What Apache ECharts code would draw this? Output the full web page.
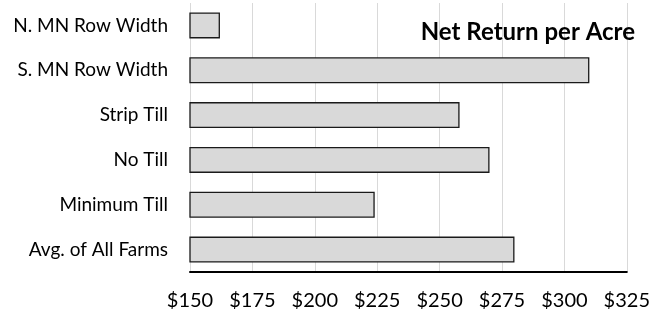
<!DOCTYPE html>
<html>
<head>
<meta charset="utf-8">
<script src="https://cdn.jsdelivr.net/npm/echarts@6/dist/echarts.min.js"></script>
<style>
  html, body { margin: 0; padding: 0; background: #fff; }
  #chart { width: 653px; height: 312px; }
</style>
</head>
<body>
<div id="chart"></div>
<script>
// 数据
const categories = ['N. MN Row Width', 'S. MN Row Width', 'Strip Till', 'No Till', 'Minimum Till', 'Avg. of All Farms']
const netReturn = [162, 310, 258, 270, 224, 280]
const tickValues = [150, 175, 200, 225, 250, 275, 300, 325]

const chart = echarts.init(document.getElementById('chart'))
const font = 'Lato, "Open Sans", sans-serif'

const option = {
  animation: false,
  title: {
    text: 'Net Return per Acre',
    right: 13,
    top: 15,
    textStyle: { fontFamily: font, fontSize: 24, fontWeight: 'bold', color: '#000' },
  },
  grid: { left: 190, right: 26, top: 3, bottom: 40 },
  xAxis: {
    type: 'value',
    min: tickValues[0],
    max: tickValues[tickValues.length - 1],
    interval: 25,
    axisLine: { show: true, lineStyle: { color: '#000', width: 2 } },
    axisTick: { show: false },
    axisLabel: {
      margin: 19,
      fontFamily: font,
      fontSize: 20,
      color: '#000',
      formatter: (v) => '$' + v,
    },
    splitLine: { show: true, lineStyle: { color: '#d9d9d9', width: 1 } },
  },
  yAxis: {
    type: 'category',
    data: categories,
    inverse: true,
    axisLine: { show: false },
    axisTick: { show: false },
    axisLabel: { margin: 22, fontFamily: font, fontSize: 19, color: '#000' },
  },
  series: [
    {
      type: 'bar',
      data: netReturn,
      barWidth: '58%',
      itemStyle: { color: '#d9d9d9', borderColor: '#1a1a1a', borderWidth: 1.3 },
    },
  ],
}

chart.setOption(option)
</script>
</body>
</html>
